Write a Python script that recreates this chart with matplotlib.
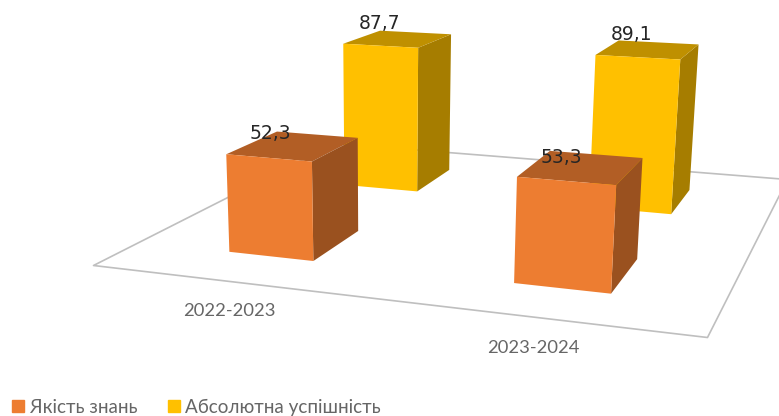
import numpy as np
import matplotlib
matplotlib.use("Agg")
from matplotlib import pyplot as plt
from matplotlib.patches import Rectangle
from mpl_toolkits.mplot3d import proj3d
from mpl_toolkits.mplot3d.art3d import Poly3DCollection

plt.rcParams['font.family'] = ['Lato', 'Noto Sans', 'DejaVu Sans']

categories = ['2022-2023', '2023-2024']
series_names = ['Якість знань', 'Абсолютна успішність']
quality = [52.3, 53.3]
success = [87.7, 89.1]
labels_quality = ['52,3', '53,3']
labels_success = ['87,7', '89,1']

# camera of the chart: data (x, y, z, 1) -> picture pixels, fitted on the reference
cam = np.array([
    [257.0900958980856, 184.01715152976234, -0.14916010827733678, 93.0],
    [12.209847691192545, -33.8055309318531, -1.9818265286830186, 265.0],
    [-0.07059392376500638, 0.1901711123645987, -0.0003894028036566244, 1.0],
])
M = np.array([cam[0], cam[1], cam[2] - [0, 0, 0, 1], cam[2]])

fig = plt.figure(figsize=(7.79, 4.16), dpi=100)
# 3d axes are always square, so let it hang over top and bottom of the figure
ax = fig.add_axes([0, -181.5/416, 1, 779/416], projection='3d', computed_zorder=False)
ax.set_axis_off()
ax.get_proj = lambda: M
ax.viewLim.intervalx = (0, 779)
ax.viewLim.intervaly = (597.5, -181.5)


def label(x, y, z, s, **kw):
    u, v, _ = proj3d.proj_transform(x, y, z, M)
    ax.text2D(u, v, s, ha='center', va='center', zorder=5, **kw)


def faces(front, top, side):
    # bottom, top, front, back, left, right; hidden ones stay transparent
    none = (0, 0, 0, 0)
    return [none, top, front, none, none, side]


floor = [[(0, 0, 0), (2, 0, 0), (2, 2, 0), (0, 2, 0)]]
ax.add_collection3d(Poly3DCollection(floor, facecolor='white', edgecolor='#bfbfbf', linewidth=1.2, zorder=1))

orange = faces('#ED7D31', '#B25E25', '#9A511F')
yellow = faces('#FFC000', '#BF9000', '#A67D00')

dx_success = [0.427, 0.44]
dz_success = [9.2, 8]
dx_quality = [0.42, 0.44]
dz_quality = [5.8, 4]

for i in range(2):
    ax.bar3d(i + 0.35, 1.29, 0, 0.31, 0.39, success[i], color=yellow, shade=False, zorder=2)
    ax.bar3d(i + 0.35, 0.29, 0, 0.31, 0.39, quality[i], color=orange, shade=False, zorder=3)
    label(i + dx_success[i], 1.485, success[i] + dz_success[i], labels_success[i],
          fontsize=13.5, color='#262626', family='DejaVu Sans')
    label(i + dx_quality[i], 0.485, quality[i] + dz_quality[i], labels_quality[i],
          fontsize=13.5, color='#262626', family='DejaVu Sans')

label(0.636, -0.265, 0, categories[0], fontsize=13.2, color='#666666')
label(1.566, -0.255, 0, categories[1], fontsize=13.2, color='#666666')

h = [Rectangle((0, 0), 1, 1, color='#ED7D31'), Rectangle((0, 0), 1, 1, color='#FFC000')]
fig.legend(h, series_names, loc='lower left', bbox_to_anchor=(12/779, 0.001), ncol=2, frameon=False,
           fontsize=13.6, handlelength=0.66, handleheight=0.66, handletextpad=0.27, labelcolor='#666666',
           columnspacing=1.62, borderpad=0, borderaxespad=0)
fig.savefig('out.png', dpi=100)
